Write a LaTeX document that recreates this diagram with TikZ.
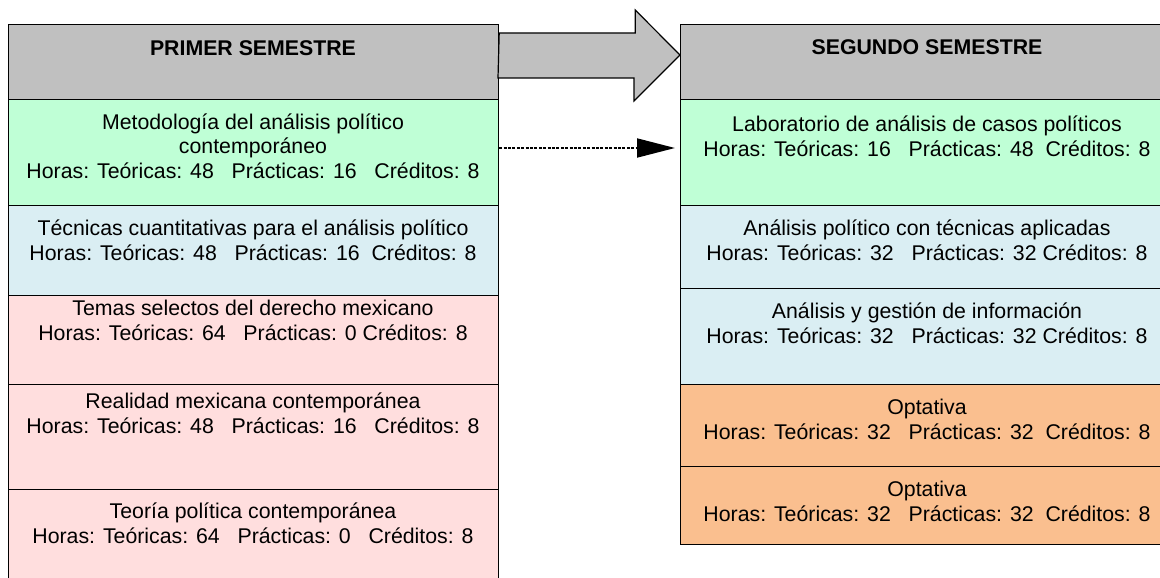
\documentclass[tikz,border=0pt]{standalone}
\usepackage{fontspec}
\setmainfont{Liberation Sans}
\usetikzlibrary{arrows.meta,calc}
\definecolor{hdrgray}{RGB}{192,192,192}
\definecolor{mint}{RGB}{191,255,214}
\definecolor{paleblue}{RGB}{218,238,243}
\definecolor{palepink}{RGB}{255,222,222}
\definecolor{peach}{RGB}{250,191,143}
\begin{document}
\begin{tikzpicture}[x=1pt,y=-1pt,
  cell/.style={draw=black, line width=1.2pt, rectangle, inner sep=0pt, anchor=north west, minimum width=490pt},
  rcell/.style={cell, minimum width=520pt},
  txt/.style={align=center, anchor=base, inner sep=0pt, font=\fontsize{21.3}{24.5}\selectfont},
  hdrtxt/.style={txt, font=\fontsize{21.3}{24.5}\selectfont\bfseries},
  bigarrow/.style={draw=black, line width=1.2pt, fill=hdrgray, line join=miter},
  dotarrow/.style={line width=1.8pt, dash pattern=on 3pt off 1.4pt, -{Triangle[length=38pt,width=19pt]}, shorten >=5pt}]
\useasboundingbox (0,0) rectangle (1160,578);
% left column
\node[cell, fill=hdrgray, minimum height=75pt] (hdrL) at (8,24) {};
\node[cell, fill=mint, minimum height=106pt] (L1) at (8,99) {};
\node[cell, fill=paleblue, minimum height=90pt] (L2) at (8,205) {};
\node[cell, fill=palepink, minimum height=89pt] (L3) at (8,295) {};
\node[cell, fill=palepink, minimum height=105pt] (L4) at (8,384) {};
\node[cell, fill=palepink, minimum height=110pt] (L5) at (8,489) {};
% right column
\node[rcell, fill=hdrgray, minimum height=75pt] (hdrR) at (680,24) {};
\node[rcell, fill=mint, minimum height=106pt] (R1) at (680,99) {};
\node[rcell, fill=paleblue, minimum height=83pt] (R2) at (680,205) {};
\node[rcell, fill=paleblue, minimum height=96pt] (R3) at (680,288) {};
\node[rcell, fill=peach, minimum height=82pt] (R4) at (680,384) {};
\node[rcell, fill=peach, minimum height=78pt] (R5) at (680,466) {};
% texts left (anchor base = last line baseline)
\node[hdrtxt] (hdrLt) at (253,56) {PRIMER SEMESTRE};
\node[txt] (L1t) at (253,178) {Metodología del análisis político\\contemporáneo\\Horas: Teóricas: 48~~~Prácticas: 16~~~Créditos: 8};
\node[txt] (L2t) at (253,260) {Técnicas cuantitativas para el análisis político\\Horas: Teóricas: 48~~~Prácticas: 16~~Créditos: 8};
\node[txt] (L3t) at (253,340) {Temas selectos del derecho mexicano\\Horas: Teóricas: 64~~~Prácticas: 0 Créditos: 8};
\node[txt] (L4t) at (253,433) {Realidad mexicana contemporánea\\Horas: Teóricas: 48~~~Prácticas: 16~~~Créditos: 8};
\node[txt] (L5t) at (253,543) {Teoría política contemporánea\\Horas: Teóricas: 64~~~Prácticas: 0~~~Créditos: 8};
% texts right
\node[hdrtxt] (hdrRt) at (927,55) {SEGUNDO SEMESTRE};
\node[txt] (R1t) at (927,156) {Laboratorio de análisis de casos políticos\\Horas: Teóricas: 16~~~Prácticas: 48~~Créditos: 8};
\node[txt] (R2t) at (927,260) {Análisis político con técnicas aplicadas\\Horas: Teóricas: 32~~~Prácticas: 32 Créditos: 8};
\node[txt] (R3t) at (927,343) {Análisis y gestión de información\\Horas: Teóricas: 32~~~Prácticas: 32 Créditos: 8};
\node[txt] (R4t) at (927,439) {Optativa\\Horas: Teóricas: 32~~~Prácticas: 32~~Créditos: 8};
\node[txt] (R5t) at (927,521) {Optativa\\Horas: Teóricas: 32~~~Prácticas: 32~~Créditos: 8};
% big arrow
\coordinate (ba) at ($(hdrL.north east)+(0,9)$);
\draw[bigarrow] (ba) -- ++(136,0) -- ++(0,-23) -- (hdrR.north west |- 0,55) -- ++(-46,46) -- ++(0,-23) -- ++(-136,0) -- cycle;
% dotted arrow
\coordinate (da) at (L1.east |- 0,148);
\draw[dotarrow] (da) -- (R1.west |- da);
\end{tikzpicture}
\end{document}
